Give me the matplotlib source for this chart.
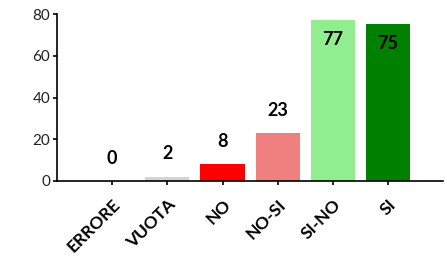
import matplotlib.pyplot as plt

categories = ["ERRORE", "VUOTA", "NO", "NO-SI", "SI-NO", "SI"]
values = [0, 2, 8, 23, 77, 75]
colors = ["#d3d3d3", "#d3d3d3", "#ff0000", "#f08080", "#90ee90", "#008000"]

plt.rcParams["font.family"] = ["Lato", "DejaVu Sans"]

fig = plt.figure(figsize=(4.47, 2.60), dpi=100)
ax = fig.add_axes([0.1275, 0.304, 0.864, 0.642])

x = range(len(categories))
ax.bar(x, values, width=0.8, color=colors)

# value labels: above the bar, inside for the tall ones
for i, v in enumerate(values):
    dy = -13.5 if v > 60 else 16.5
    ax.annotate(str(v), (i, v), xytext=(0, dy), textcoords="offset points",
                ha="center", va="center", fontsize=13, fontweight="bold")

ax.set_xlim(-1, 6)
ax.set_ylim(0, 80)
ax.set_yticks([0, 20, 40, 60, 80])
ax.set_xticks(list(x))
ax.set_xticklabels(categories, rotation=45, ha="right", rotation_mode="anchor",
                   fontsize=12.5, fontweight="bold")
ax.tick_params(axis="y", labelsize=11, length=3, width=1.2, pad=2,
               labelcolor="#222222")
ax.tick_params(axis="x", length=3, width=1.2, pad=8)

for s in ["top", "right"]:
    ax.spines[s].set_visible(False)
for s in ["left", "bottom"]:
    ax.spines[s].set_linewidth(1.2)

fig.savefig("out.png", dpi=100)
